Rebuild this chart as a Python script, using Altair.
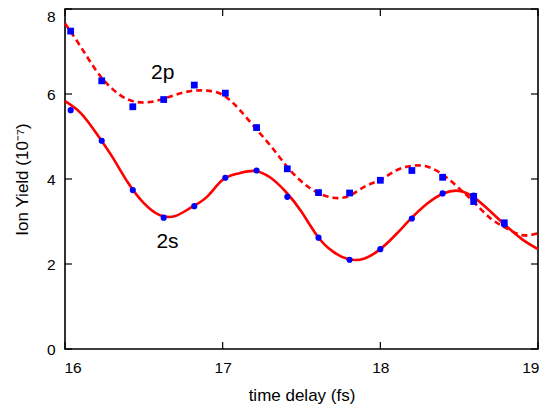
import altair as alt
import pandas as pd

# measured points
pt_t = [16.036, 16.233, 16.43, 16.626, 16.82, 17.017, 17.215, 17.41, 17.608,
        17.805, 18.0, 18.2, 18.395, 18.592, 18.786]
p2_vals = [7.48, 6.31, 5.70, 5.87, 6.21, 6.02, 5.21, 4.24, 3.68,
           3.67, 3.97, 4.20, 4.04, 3.59, 2.97]
p2_extra_t = [18.592]
p2_extra_v = [3.47]
s2_vals = [5.62, 4.90, 3.74, 3.09, 3.36, 4.03, 4.20, 3.58, 2.62,
           2.10, 2.35, 3.07, 3.66, 3.61, 2.93]

# fitted curves
fit_t = [16.0, 16.1, 16.2, 16.3, 16.4, 16.5, 16.6, 16.7, 16.8, 16.9,
         17.0, 17.1, 17.2, 17.3, 17.4, 17.5, 17.6, 17.7, 17.8, 17.9,
         18.0, 18.1, 18.2, 18.3, 18.4, 18.5, 18.6, 18.7, 18.8, 18.9, 19.0]
fit_2s = [5.83, 5.55, 5.07, 4.52, 3.91, 3.43, 3.15, 3.13, 3.33, 3.58,
          3.98, 4.13, 4.19, 4.04, 3.70, 3.23, 2.66, 2.29, 2.11, 2.13,
          2.35, 2.70, 3.09, 3.43, 3.66, 3.72, 3.55, 3.23, 2.89, 2.58, 2.35]
fit_2p = [7.66, 7.11, 6.54, 6.12, 5.87, 5.80, 5.86, 5.98, 6.07, 6.08,
          5.98, 5.66, 5.23, 4.80, 4.33, 3.94, 3.68, 3.56, 3.60, 3.82,
          3.98, 4.20, 4.31, 4.29, 4.09, 3.78, 3.43, 3.07, 2.84, 2.68, 2.72]

label_text = ["2p", "2s"]
label_t = [16.62, 16.65]
label_v = [6.36, 2.38]

x_ticks = [16, 17, 18, 19]
y_ticks = [0, 2, 4, 6, 8]

W, H = 473, 340
FONT = "Liberation Sans"

xenc = alt.X("t:Q", scale=alt.Scale(domain=[16, 19], nice=False, zero=False),
             axis=alt.Axis(values=x_ticks, title="time delay (fs)", ticks=False,
                           domain=False, grid=False, labelPadding=11,
                           labelFlush=True, labelFlushOffset=1,
                           titlePadding=12, format="d"))
yenc = alt.Y("v:Q", scale=alt.Scale(domain=[0, 8], nice=False),
             axis=alt.Axis(values=y_ticks, title="Ion Yield (10⁻⁷)", ticks=False,
                           domain=False, grid=False, labelPadding=10,
                           labelFlush=False,
                           labelBaseline={"condition": {"test": "datum.value == 8",
                                                        "value": "top"},
                                          "value": "middle"},
                           titlePadding=15, format="d"))

df_2s_fit = pd.DataFrame({"t": fit_t, "v": fit_2s})
df_2p_fit = pd.DataFrame({"t": fit_t, "v": fit_2p})
df_2s = pd.DataFrame({"t": pt_t, "v": s2_vals})
df_2p = pd.DataFrame({"t": pt_t + p2_extra_t, "v": p2_vals + p2_extra_v})
df_lab = pd.DataFrame({"t": label_t, "v": label_v, "txt": label_text})
df_xt = pd.DataFrame({"t": x_ticks})
df_yt = pd.DataFrame({"v": y_ticks})

line_2s = alt.Chart(df_2s_fit).mark_line(
    color="#ff0000", strokeWidth=2.6, interpolate="natural"
).encode(x=xenc, y=yenc)

line_2p = alt.Chart(df_2p_fit).mark_line(
    color="#ff0000", strokeWidth=2.6, strokeDash=[6, 4], interpolate="natural"
).encode(x=xenc, y=yenc)

pts_2s = alt.Chart(df_2s).mark_point(
    shape="circle", filled=True, color="#0000ff", size=38, opacity=1
).encode(x=xenc, y=yenc)

pts_2p = alt.Chart(df_2p).mark_point(
    shape="square", filled=True, color="#0000ff", size=46, opacity=1
).encode(x=xenc, y=yenc)

labels = alt.Chart(df_lab).mark_text(
    font=FONT, fontSize=21, color="black", baseline="alphabetic", align="center"
).encode(x=xenc, y=yenc, text="txt:N")

tick_b = alt.Chart(df_xt).mark_rule(color="black", strokeWidth=1.2).encode(
    x=xenc, y=alt.value(H), y2=alt.value(H - 7))
tick_t = alt.Chart(df_xt).mark_rule(color="black", strokeWidth=1.2).encode(
    x=xenc, y=alt.value(0), y2=alt.value(7))
tick_l = alt.Chart(df_yt).mark_rule(color="black", strokeWidth=1.2).encode(
    y=yenc, x=alt.value(0), x2=alt.value(7))
tick_r = alt.Chart(df_yt).mark_rule(color="black", strokeWidth=1.2).encode(
    y=yenc, x=alt.value(W), x2=alt.value(W - 7))

chart = alt.layer(
    tick_b, tick_t, tick_l, tick_r, line_2p, line_2s, pts_2p, pts_2s, labels
).properties(
    width=W, height=H,
    autosize=alt.AutoSizeParams(type="none"),
    padding={"left": 65, "top": 9, "right": 1, "bottom": 61},
    background="white",
).configure_view(
    stroke="black", strokeWidth=1.6
).configure_axis(
    labelFont=FONT, titleFont=FONT, labelFontSize=15.5, titleFontSize=17,
    labelColor="black", titleColor="black", titleFontWeight="normal"
)

chart.save("out.html", embed_options={"renderer": "svg", "actions": False})
